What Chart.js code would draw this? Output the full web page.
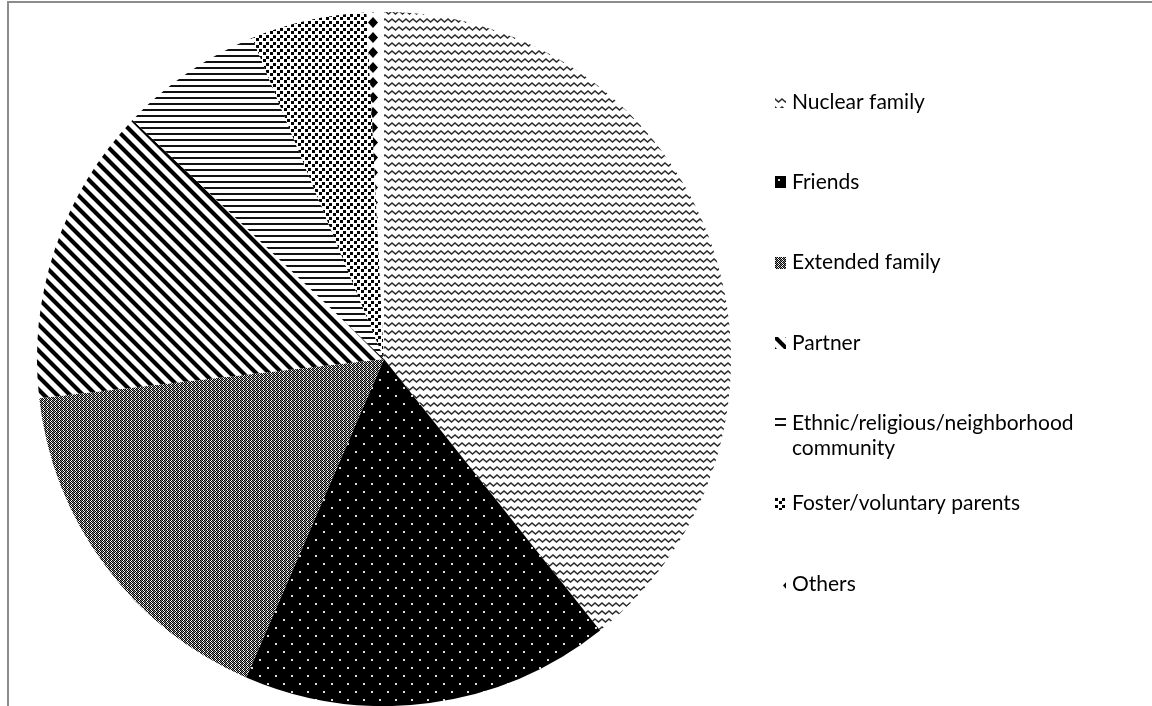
<!DOCTYPE html>
<html>
<head>
<meta charset="utf-8">
<script src="https://cdn.jsdelivr.net/npm/chart.js@4.4.1/dist/chart.umd.min.js"></script>
<style>
html,body{margin:0;padding:0;background:#fff;overflow:hidden;}
#wrap{position:absolute;left:0;top:0;width:1152px;height:706px;}
</style>
</head>
<body>
<div id="wrap"><canvas id="c" width="1152" height="706"></canvas></div>
<script>
const categories = ["Nuclear family","Friends","Extended family","Partner","Ethnic/religious/neighborhood community","Foster/voluntary parents","Others"];
const legendLines = [["Nuclear family"],["Friends"],["Extended family"],["Partner"],["Ethnic/religious/neighborhood","community"],["Foster/voluntary parents"],["Others"]];
const values = [39.3, 17.2, 16.7, 13.9, 6.7, 5.4, 0.8];

function makePattern(w, h, draw) {
  const c = document.createElement('canvas');
  c.width = w; c.height = h;
  const g = c.getContext('2d');
  g.fillStyle = '#fff'; g.fillRect(0, 0, w, h);
  draw(g, w, h);
  return document.getElementById('c').getContext('2d').createPattern(c, 'repeat');
}

const patterns = [
  // wavy
  makePattern(14, 8, (g) => {
    g.strokeStyle = '#2a2a2a'; g.lineWidth = 1.5;
    g.beginPath();
    g.moveTo(-3.5, 6); g.lineTo(0, 3); g.lineTo(3.5, 6); g.lineTo(7, 3); g.lineTo(10.5, 6); g.lineTo(14, 3); g.lineTo(17.5, 6);
    g.stroke();
  }),
  // black with white dots
  makePattern(16, 16, (g) => {
    g.fillStyle = '#000'; g.fillRect(0, 0, 16, 16);
    g.fillStyle = '#ddd';
    g.fillRect(3, 3, 2, 2); g.fillRect(11, 11, 2, 2);
  }),
  // fine checker gray
  makePattern(4, 4, (g) => {
    g.fillStyle = '#000';
    g.fillRect(0, 0, 1, 1); g.fillRect(2, 0, 1, 1); g.fillRect(1, 1, 1, 1); g.fillRect(3, 1, 1, 1);
    g.fillRect(0, 2, 1, 1); g.fillRect(2, 2, 1, 1); g.fillRect(1, 3, 1, 1); g.fillRect(3, 3, 1, 1);
    g.fillStyle = '#888';
    g.fillRect(1, 0, 1, 1); g.fillRect(0, 1, 1, 1); g.fillRect(1, 2, 1, 1); g.fillRect(2, 3, 1, 1);
  }),
  // diagonal stripes
  makePattern(13, 13, (g) => {
    g.strokeStyle = '#000'; g.lineWidth = 4.2;
    g.beginPath();
    for (let k = -13; k <= 13; k += 13) { g.moveTo(k - 2, -2); g.lineTo(k + 15, 15); }
    g.stroke();
  }),
  // horizontal lines
  makePattern(4, 6, (g) => {
    g.fillStyle = '#111'; g.fillRect(0, 1, 4, 2);
  }),
  // black squares dotted
  makePattern(7, 7, (g) => {
    g.fillStyle = '#000';
    g.fillRect(0, 0, 3, 3); g.fillRect(4, 3, 3, 3);
  }),
  // diamonds column
  makePattern(20, 15, (g) => {
    g.fillStyle = '#000';
    g.beginPath();
    g.moveTo(13, 2); g.lineTo(18, 7.5); g.lineTo(13, 13); g.lineTo(8, 7.5); g.closePath();
    g.fill();
  })
];

const framePlugin = {
  id: 'frame',
  beforeDraw(chart) {
    const ctx = chart.ctx;
    ctx.save();
    ctx.fillStyle = '#fff'; ctx.fillRect(0, 0, chart.width, chart.height);
    ctx.strokeStyle = '#8c8c8c'; ctx.lineWidth = 2;
    ctx.beginPath();
    ctx.moveTo(8, 720); ctx.lineTo(8, 2); ctx.lineTo(1152, 2);
    ctx.stroke();
    ctx.restore();
  }
};

const legendPlugin = {
  id: 'customLegend',
  afterDraw(chart) {
    const ctx = chart.ctx;
    ctx.save();
    ctx.font = '21px Lato, "Open Sans", sans-serif';
    ctx.textBaseline = 'middle';
    legendLines.forEach((lines, i) => {
      const y = 102 + i * 80.3;
      ctx.save();
      ctx.translate(775, Math.round(y) - 6);
      ctx.fillStyle = chart.data.datasets[0].backgroundColor[i];
      ctx.fillRect(0, 0, 11, 12);
      ctx.restore();
      ctx.fillStyle = '#000';
      lines.forEach((t, j) => ctx.fillText(t, 792, y + j * 25));
    });
    ctx.restore();
  }
};

new Chart(document.getElementById('c'), {
  type: 'pie',
  data: {
    labels: categories,
    datasets: [{
      data: values,
      backgroundColor: patterns,
      borderWidth: 0
    }]
  },
  options: {
    responsive: false,
    animation: false,
    layout: { padding: { left: 37, right: 421, top: 12, bottom: 0 } },
    plugins: { legend: { display: false }, tooltip: { enabled: false } }
  },
  plugins: [framePlugin, legendPlugin]
});
</script>
</body>
</html>
